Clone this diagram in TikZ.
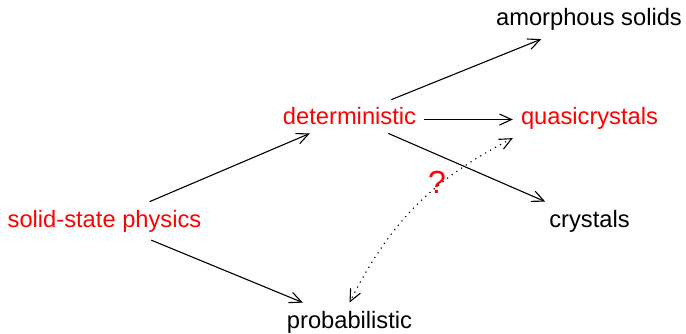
\documentclass[tikz,border=0pt]{standalone}
\usepackage{fontspec}
\setmainfont{Liberation Sans}
\usetikzlibrary{arrows.meta}
\begin{document}
\begin{tikzpicture}[x=1pt,y=-1pt,
  lbl/.style={inner sep=8pt, font=\fontsize{23.7}{28}\selectfont, anchor=base},
  hot/.style={lbl, text=red},
  cool/.style={lbl, text=black},
  arr/.style={-{Straight Barb[length=12pt,width=11pt]}, line width=1.1pt},
  dotarr/.style={{Straight Barb[length=12pt,width=11pt]}-{Straight Barb[length=12pt,width=11pt]}, line width=1.1pt, dash pattern=on 1.2pt off 4.5pt}]
\useasboundingbox (0,0) rectangle (686,334);
\node[cool] (amor) at (589,26) {amorphous solids};
\node[hot] (det) at (349.5,125) {deterministic};
\node[hot] (quasi) at (589.5,125) {quasicrystals};
\node[hot] (ssp) at (104.5,227) {solid-state physics};
\node[cool] (cry) at (589.5,227) {crystals};
\node[cool] (prob) at (349.5,328) {probabilistic};
\node[hot, inner sep=0pt, font=\fontsize{32}{36}\selectfont] (q) at (437,194) {?};
\draw[arr] (ssp) -- (det);
\draw[arr] (ssp) -- (prob);
\draw[arr] (det) -- (amor);
\draw[arr] ([yshift=-3pt]det.east) -- ([yshift=-3pt]det.east -| quasi.west);
\draw[arr] (det) -- (cry);
\draw[dotarr] (quasi.south west) to[bend right=18] (prob.north);
\end{tikzpicture}
\end{document}
